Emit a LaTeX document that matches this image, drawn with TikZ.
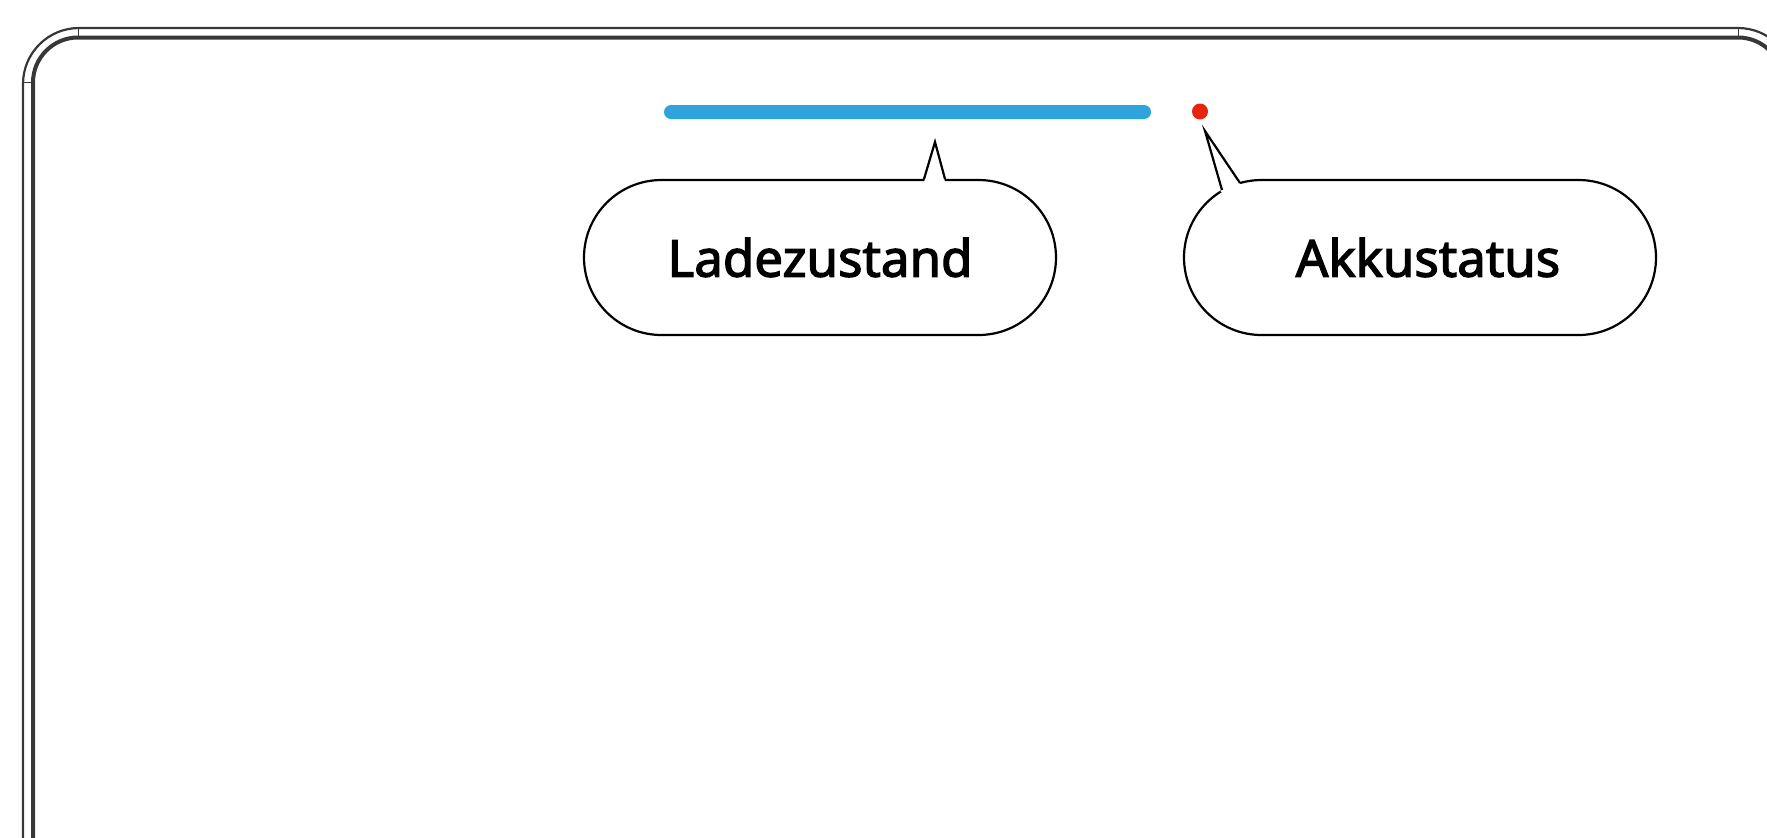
\documentclass[tikz,border=0pt]{standalone}
\usepackage{fontspec}
\setmainfont{Noto Sans}
\newfontfamily\calloutfont{Noto Sans}[FakeBold=2.5]
\usepackage{tikz}
\usetikzlibrary{shapes.misc,calc}
\usepackage{xcolor}
\definecolor{barblue}{RGB}{46,163,220}
\definecolor{ledred}{RGB}{232,35,15}
\definecolor{framegray}{RGB}{55,55,55}

\begin{document}
\begin{tikzpicture}[x=0.5pt, y=-0.5pt, every node/.style={font=\calloutfont\fontsize{25.5}{30}\selectfont}, bubble/.style={draw=black,line width=1.1pt,fill=white,rounded rectangle,minimum width=236pt,minimum height=77.5pt,inner sep=0pt}, pointer/.style={draw=black,line width=1.1pt,line join=miter}]
\useasboundingbox (0,0) rectangle (1767,837);
\clip (0,0) rectangle (1767,837);
% device frame
\draw[framegray,line width=1.1pt,rounded corners=28pt] (23,900) -- (23,28) -- (1794,28) -- (1794,900);
\draw[framegray,line width=2pt,rounded corners=22.5pt] (33,900) -- (33,37.5) -- (1783,37.5) -- (1783,900);
\draw[framegray,line width=0.4pt] (23,82) -- (33,82) (78,28) -- (78,37.5) (1738,28) -- (1738,37.5);
% indicators
\node[fill=barblue,rounded rectangle,minimum width=243.5pt,minimum height=7pt,inner sep=0pt] (bar) at (907.5,112) {};
\node[fill=ledred,circle,minimum size=8pt,inner sep=0pt] (led) at (1200,111.5) {};
% callouts
\node[bubble] (charge) at (820,257.5) {Ladezustand};
\node[bubble] (status) at (1420,257.5) {\hspace*{8pt}Akkustatus};
\coordinate (chargetip) at (935,142);
\coordinate (statustip) at (1205,131);
\fill[white] (924,182) -- (chargetip) -- (945,182) -- cycle;
\draw[pointer] (924,179) -- (chargetip) -- (945,179);
\fill[white] (1221,192) -- (statustip) -- (1241,185) -- (1234,192) -- cycle;
\draw[pointer] (1222,190) -- (statustip) -- (1240,183);
\end{tikzpicture}
\end{document}
